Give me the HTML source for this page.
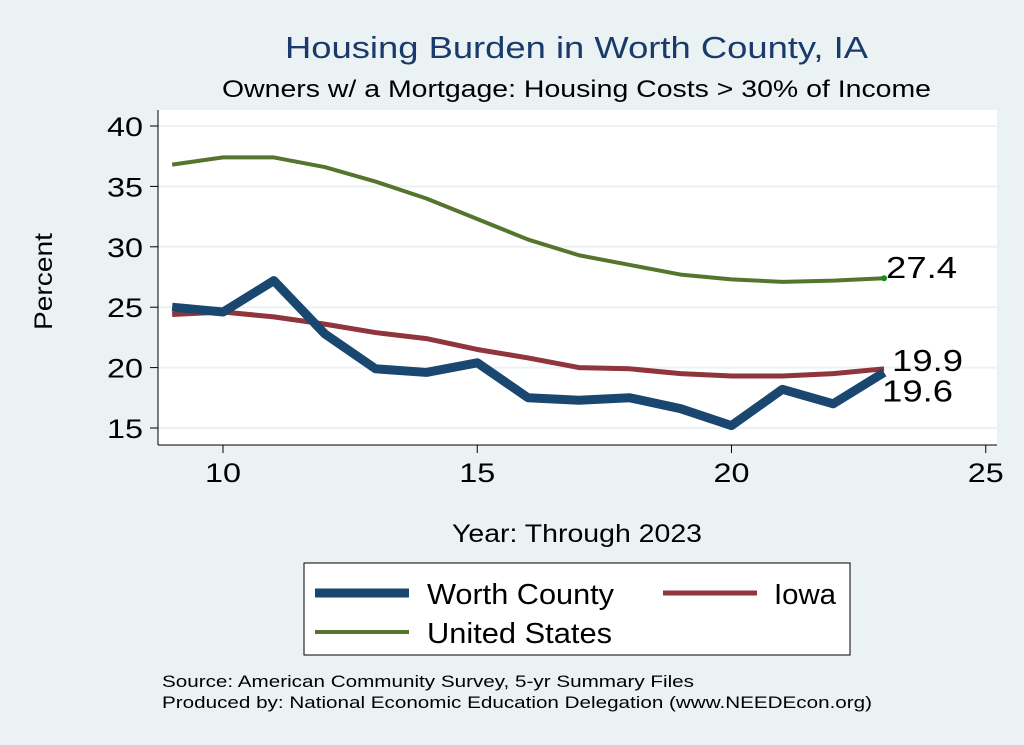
<!DOCTYPE html>
<html><head><meta charset="utf-8"><style>
body{margin:0;background:#eaf2f3;}
svg{display:block;font-family:"Liberation Sans",Arial,sans-serif;}
</style></head><body>
<svg id="chart" width="1024" height="745">
<rect x="0" y="0" width="1024" height="745" fill="#eaf2f3"/>
<text x="285" y="58" font-size="31" fill="#1a3a6b" textLength="583" lengthAdjust="spacingAndGlyphs">Housing Burden in Worth County, IA</text>
<text x="222" y="97" font-size="24.5" fill="#000" textLength="709" lengthAdjust="spacingAndGlyphs">Owners w/ a Mortgage: Housing Costs &gt; 30% of Income</text>
<rect x="158" y="110" width="839" height="335" fill="#fff"/>
<g id="grid"></g>
<g id="axes"></g>
<g id="series"></g>
<text x="52" y="330" font-size="25" transform="rotate(-90 52 330)" textLength="97" lengthAdjust="spacingAndGlyphs">Percent</text>
<text x="452" y="542" font-size="25" textLength="250" lengthAdjust="spacingAndGlyphs">Year: Through 2023</text>
<g>
<rect x="304" y="563" width="546" height="92" fill="#fff" stroke="#000" stroke-width="1"/>
<line x1="315" y1="593" x2="409" y2="593" stroke="#1a476f" stroke-width="9"/>
<text x="427" y="604" font-size="29" textLength="187" lengthAdjust="spacingAndGlyphs">Worth County</text>
<line x1="663" y1="593" x2="757" y2="593" stroke="#90353b" stroke-width="5"/>
<text x="774" y="604" font-size="29" textLength="62" lengthAdjust="spacingAndGlyphs">Iowa</text>
<line x1="315" y1="632" x2="409" y2="632" stroke="#55752f" stroke-width="4"/>
<text x="427" y="643" font-size="29" textLength="185" lengthAdjust="spacingAndGlyphs">United States</text>
</g>
<text x="162" y="687" font-size="17" textLength="532" lengthAdjust="spacingAndGlyphs">Source: American Community Survey, 5-yr Summary Files</text>
<text x="162" y="708" font-size="17" textLength="710" lengthAdjust="spacingAndGlyphs">Produced by: National Economic Education Delegation (www.NEEDEcon.org)</text>
</svg>
<script>
const years=[9,10,11,12,13,14,15,16,17,18,19,20,21,22,23];
const worth=[25.0,24.6,27.2,22.8,19.9,19.6,20.4,17.5,17.3,17.5,16.6,15.2,18.2,17.0,19.6];
const iowa=[24.4,24.6,24.2,23.6,22.9,22.4,21.5,20.8,20.0,19.9,19.5,19.3,19.3,19.5,19.9];
const us=[36.8,37.4,37.4,36.6,35.4,34.0,32.3,30.6,29.3,28.5,27.7,27.3,27.1,27.2,27.4];
const yTicks=[15,20,25,30,35,40];
const xTicks=[10,15,20,25];
const NS='http://www.w3.org/2000/svg';
function xs(v){return 223+(v-10)*50.85;}
function ys(v){return 428-(v-15)*12.08;}
function mk(tag,attrs,parent){const e=document.createElementNS(NS,tag);for(const k in attrs)e.setAttribute(k,attrs[k]);document.getElementById(parent).appendChild(e);return e;}
yTicks.forEach(t=>{
 const g=mk('line',{x1:158,x2:997,y1:ys(t),y2:ys(t),stroke:'#eaf2f3','stroke-width':2},'grid');
 
 
 const tk=mk('line',{x1:150,x2:158,y1:ys(t),y2:ys(t),stroke:'#000'},'axes');
 
 
 const l=mk('text',{x:107,y:ys(t)+10,'font-size':27,textLength:36,lengthAdjust:'spacingAndGlyphs'},'axes');
 l.textContent=t;
 
 
});
xTicks.forEach(t=>{
 const tk=mk('line',{x1:xs(t),x2:xs(t),y1:445,y2:453,stroke:'#000'},'axes');
 
 
 const l=mk('text',{x:xs(t)-18,y:482,'font-size':27,textLength:36,lengthAdjust:'spacingAndGlyphs'},'axes');
 l.textContent=t;
 
 
});
const ax1=mk('line',{x1:158,x2:158,y1:110,y2:445,stroke:'#000'},'axes');


const ax2=mk('line',{x1:158,x2:997,y1:445,y2:445,stroke:'#000'},'axes');


function line(vals,color,w,name){
 const p=mk('polyline',{points:vals.map((v,i)=>xs(years[i])+','+ys(v)).join(' '),fill:'none',stroke:color,'stroke-width':w,'stroke-linejoin':'round'},'series');
 
 
}
line(us,'#55752f',4,'line-united-states');
line(iowa,'#90353b',5,'line-iowa');
line(worth,'#1a476f',9,'line-worth-county');
const last=years.length-1;
const dot=mk('circle',{cx:xs(years[last]),cy:ys(us[last]),r:3,fill:'#1a8a1a'},'series');


[[us,-6,-2,'label-us'],[iowa,-4,4,'label-iowa'],[worth,23,-6,'label-worth']].forEach(([a,off,dx,n])=>{
 const t=mk('text',{x:xs(years[last])+4+dx,y:ys(a[last])+off+6,'font-size':31,textLength:71,lengthAdjust:'spacingAndGlyphs'},'series');
 t.textContent=a[last].toFixed(1);
 
 
});
</script>
</body></html>
